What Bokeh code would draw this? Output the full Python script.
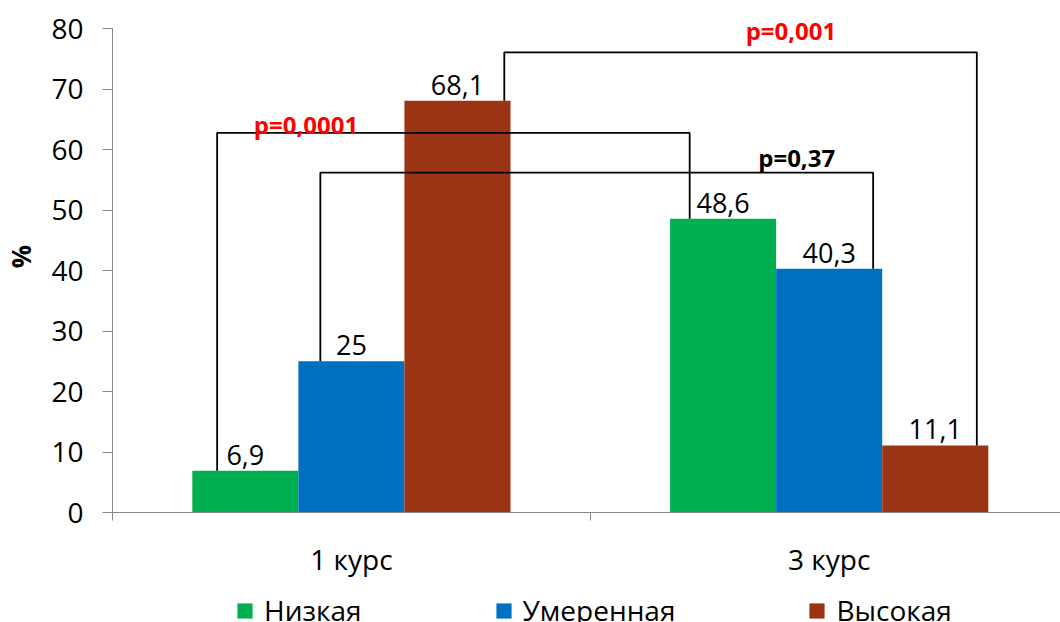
from bokeh.plotting import figure
from bokeh.models import ColumnDataSource, FixedTicker, Legend, LegendItem, Range1d
from bokeh.layouts import column
from bokeh.core.properties import value
from bokeh.embed import file_html
from bokeh.resources import INLINE

# ---------------- data ----------------
courses = ["1 курс", "3 курс"]
levels = ["Низкая", "Умеренная", "Высокая"]
nizkaya = [6.9, 48.6]
umerennaya = [25, 40.3]
vysokaya = [68.1, 11.1]
value_labels_n = ["6,9", "48,6"]
value_labels_u = ["25", "40,3"]
value_labels_v = ["68,1", "11,1"]
y_ticks = [0, 10, 20, 30, 40, 50, 60, 70, 80]
p_texts = ["p=0,0001", "p=0,37", "p=0,001"]
p_levels = [0, 1, 2]          # which level each comparison refers to

# ---------------- styling / layout ----------------
FONT = "Open Sans"
colors = ["#00B050", "#0070C0", "#9B3413"]
p_colors = ["#FF0000", "#000000", "#FF0000"]
BAR_W = 0.222
offsets = [-BAR_W, 0.0, BAR_W]
# bracket geometry (offsets from bar centres, top heights) and p-label anchors
br_left_off = [-0.059, -0.065, 0.098]
br_right_off = [-0.070, 0.092, 0.087]
br_top = [62.8, 56.2, 76.1]
p_lab_x = [0.405, 1.432, 1.420]
p_lab_y = [64.1, 58.65, 79.7]

PX_PER_UNIT = 6.07
p = figure(width=1060, height=580, output_backend="svg", toolbar_location=None,
           x_range=Range1d(0, 951 / 479.3), y_range=Range1d(0, 514 / PX_PER_UNIT),
           min_border_left=109, min_border_right=0, min_border_top=0,
           min_border_bottom=66)
p.outline_line_color = None
p.xgrid.visible = False
p.ygrid.visible = False

series = [nizkaya, umerennaya, vysokaya]
vlabels = [value_labels_n, value_labels_u, value_labels_v]
centers = [i + 0.5 for i in range(len(courses))]

for k, (vals, labs) in enumerate(zip(series, vlabels)):
    xs = [c + offsets[k] for c in centers]
    src = ColumnDataSource(dict(x=xs, top=vals, lab=labs))
    p.vbar(x="x", top="top", width=BAR_W, source=src, fill_color=colors[k],
           line_color=None)
    p.text(x="x", y="top", text="lab", source=src, text_align="center",
           text_baseline="alphabetic", y_offset=-16, text_font=value(FONT),
           text_font_size="27px", text_color="#000000")

# comparison brackets
for j, lev in enumerate(p_levels):
    vals = series[lev]
    x0 = centers[0] + offsets[lev] + br_left_off[j]
    x1 = centers[1] + offsets[lev] + br_right_off[j]
    p.line(x=[x0, x0, x1, x1], y=[vals[0], br_top[j], br_top[j], vals[1]],
           line_color="#000000", line_width=1.8)
    p.text(x=[p_lab_x[j]], y=[p_lab_y[j]], text=[p_texts[j]], text_align="center",
           text_baseline="alphabetic", text_font=value(FONT), text_font_style="bold",
           text_font_size="24px", text_color=p_colors[j])

# y axis
ya = p.yaxis[0]
ya.ticker = FixedTicker(ticks=y_ticks)
ya.bounds = (0, 80)
ya.axis_line_color = "#868686"
ya.major_tick_line_color = "#868686"
ya.major_tick_out = 10
ya.major_tick_in = 0
ya.minor_tick_line_color = None
ya.major_label_text_font = FONT
ya.major_label_text_font_size = "28px"
ya.major_label_text_color = "#000000"
ya.major_label_standoff = 19
ya.axis_label = "%"
ya.axis_label_text_font = FONT
ya.axis_label_text_font_style = "bold"
ya.axis_label_text_font_size = "26px"
ya.axis_label_text_color = "#000000"
ya.axis_label_standoff = 9

# x axis
xa = p.xaxis[0]
xa.ticker = FixedTicker(ticks=centers, minor_ticks=[0, 1, 2])
xa.major_label_overrides = {c: name for c, name in zip(centers, courses)}
xa.axis_line_color = "#868686"
xa.major_tick_line_color = None
xa.major_tick_out = 0
xa.major_tick_in = 0
xa.minor_tick_line_color = "#868686"
xa.minor_tick_out = 8
xa.minor_tick_in = 0
xa.major_label_text_font = FONT
xa.major_label_text_font_size = "28px"
xa.major_label_text_color = "#000000"
xa.major_label_standoff = 19

# legend strip below the chart (proxy bars of zero width carry the colours)
pl = figure(width=1060, height=42, output_backend="svg", toolbar_location=None,
            x_range=Range1d(0, 1), y_range=Range1d(0, 1),
            x_axis_location=None, y_axis_location=None,
            min_border_left=0, min_border_right=0, min_border_top=0, min_border_bottom=0)
pl.outline_line_color = None
pl.xgrid.visible = False
pl.ygrid.visible = False
leg_renderers = [pl.vbar(x=[0.5], top=[series[k][0]], width=0, fill_color=colors[k],
                         line_color=None) for k in range(3)]
legend = Legend(items=[LegendItem(label=levels[k], renderers=[leg_renderers[k]]) for k in range(3)],
                orientation="horizontal", location=(123, -7), padding=0, margin=0,
                spacing=132, glyph_width=19, glyph_height=19, label_standoff=10,
                label_text_font=FONT, label_text_font_size="28px",
                label_text_color="#000000", border_line_color=None,
                background_fill_alpha=0)
pl.add_layout(legend, "center")

layout = column(p, pl, spacing=0)
open("out.html", "w").write(file_html(layout, INLINE))
